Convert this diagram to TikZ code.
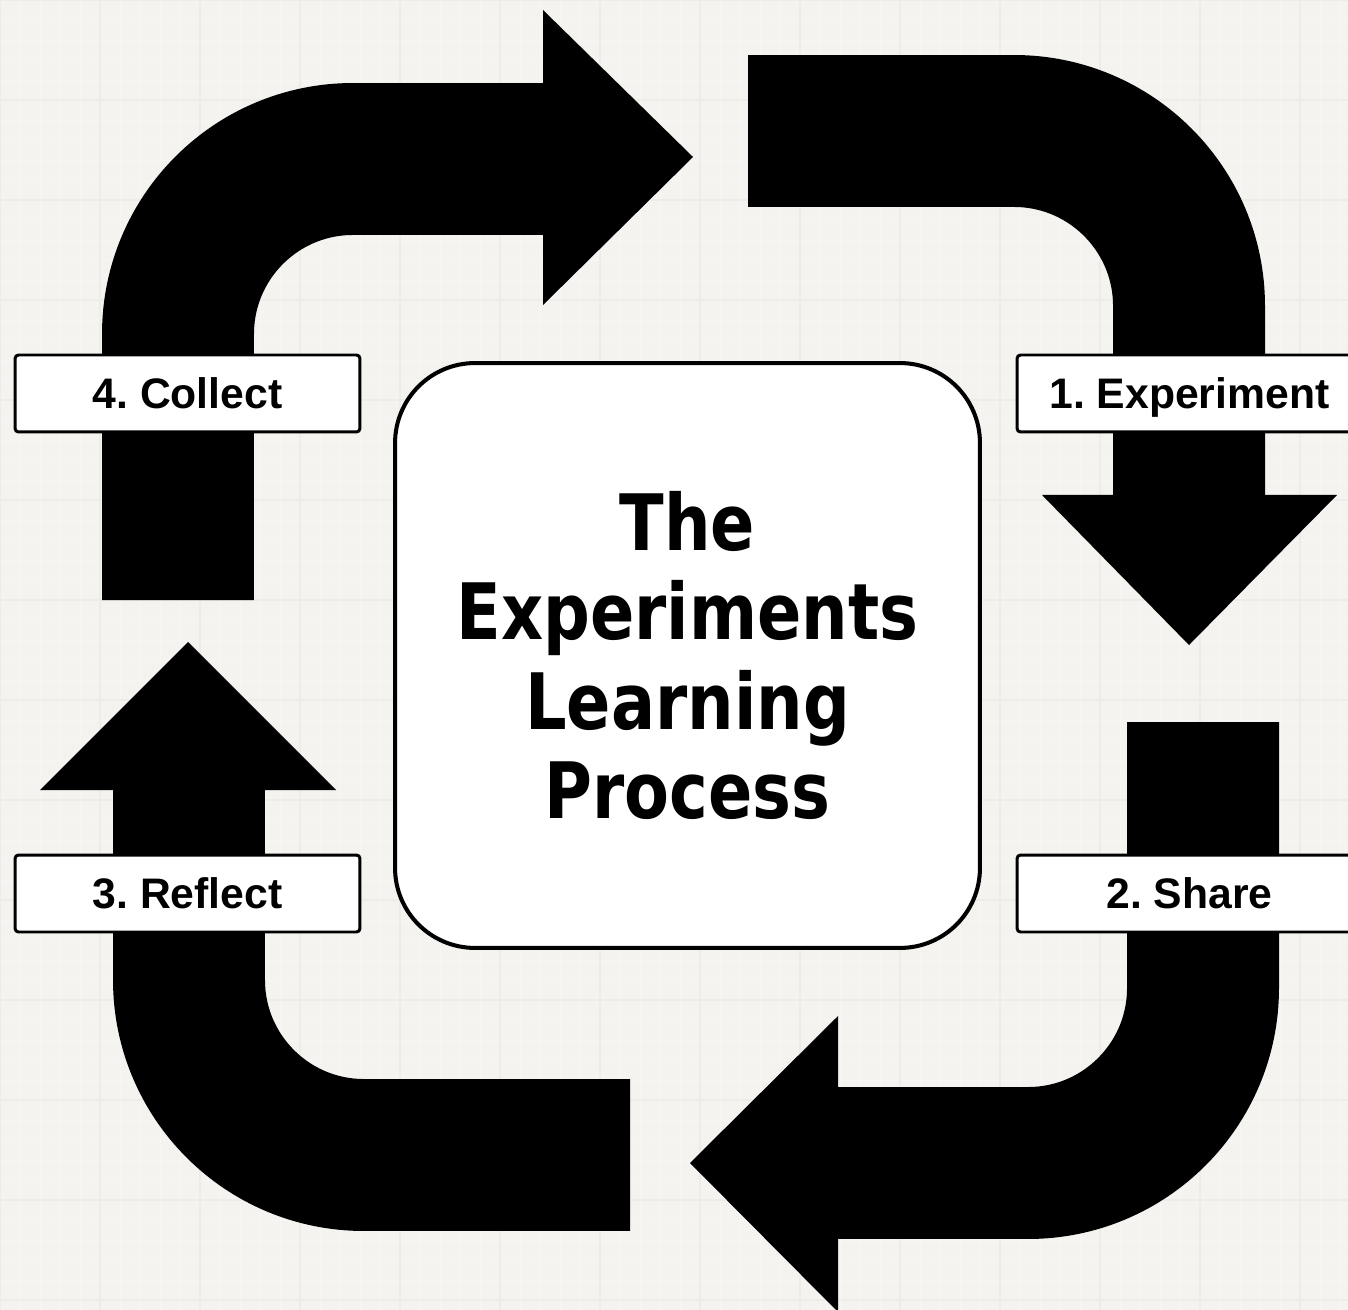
\documentclass[tikz,border=0pt]{standalone}
\usepackage{fontspec}
\setmainfont{Liberation Sans}
\newfontfamily\titlefont[FakeStretch = 0.84]{DejaVu Sans}
\usepackage{xcolor}
\definecolor{paper}{HTML}{F4F3EF}
\definecolor{gridline}{HTML}{E7E6E1}
\frenchspacing

\tikzset{
  pipe/.style = {line width = 3.04cm, rounded corners = 3.5cm},
  stage/.style = {draw, line width = 1.7pt, fill = white, rounded corners = 2pt,
    minimum width = 6.9cm, minimum height = 1.54cm, inner sep = 0,
    text height = 20.5pt, text depth = 3.5pt,
    font = \fontsize{24.3}{28}\selectfont\bfseries},
  centre/.style = {draw, line width = 2.3pt, fill = white, rounded corners = 1.6cm,
    minimum width = 11.7cm, minimum height = 11.7cm, align = center,
    font = \titlefont\fontsize{44.3}{51}\selectfont\bfseries}
}

\begin{document}
\begin{tikzpicture}[x = 0.02cm, y = -0.02cm]
 \useasboundingbox (0, 0) rectangle (1348, 1310);
 \clip (0, 0) rectangle (1348, 1310);
 % paper
 \fill[paper] (0, 0) rectangle (1348, 1310);
 \foreach \g in {0, 20, ..., 1340} \draw[gridline!35, line width = 0.4pt] (\g, 0) -- (\g, 1310);
 \foreach \g in {0, 20, ..., 1300} \draw[gridline!35, line width = 0.4pt] (0, \g) -- (1348, \g);
 \foreach \g in {0, 100, ..., 1300} \draw[gridline!75, line width = 0.8pt] (\g, 0) -- (\g, 1310);
 \foreach \g in {0, 100, ..., 1300} \draw[gridline!75, line width = 0.8pt] (0, \g) -- (1348, \g);

 % 1 top right
 \draw[pipe] (748, 131) -- (1189, 131) -- (1189, 497);
 \fill (1042, 495) -- (1337, 495) -- (1189, 645) -- cycle;
 % 2 bottom right
 \draw[pipe] (1203, 722) -- (1203, 1163) -- (836, 1163);
 \fill (838, 1016) -- (838, 1312) -- (690, 1163) -- cycle;
 % 3 bottom left
 \draw[pipe] (630, 1155) -- (189, 1155) -- (189, 788);
 \fill (40, 790) -- (336, 790) -- (188, 642) -- cycle;
 % 4 top left
 \draw[pipe] (178, 600) -- (178, 159) -- (545, 159);
 \fill (543, 10) -- (543, 305) -- (693, 157) -- cycle;

 \node[stage] (collect) at (187.5, 393.5) {4. Collect};
 \node[stage] (experiment) at (1189.5, 393.5) {1. Experiment};
 \node[stage] (reflect) at (187.5, 893.5) {3. Reflect};
 \node[stage] (share) at (1189.5, 893.5) {2. Share};

 \node[centre] (title) at (687.5, 655.5) {The\\Experiments\\Learning\\Process};
\end{tikzpicture}
\end{document}
